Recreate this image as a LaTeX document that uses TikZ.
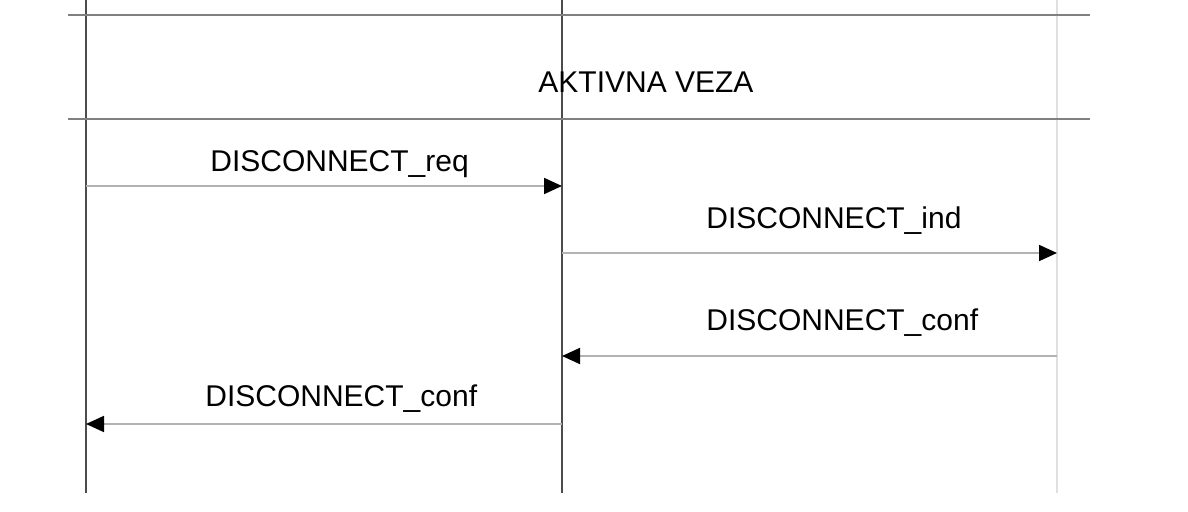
\documentclass[tikz,border=0pt]{standalone}
\usepackage{fontspec}
\setmainfont{Liberation Sans}
\usetikzlibrary{arrows.meta}
\tikzstyle{lifeline}=[draw=black!70,line width=1pt]
\tikzstyle{ghostline}=[draw=black!12,line width=1pt]
\tikzstyle{frameline}=[draw=black!50,line width=0.9pt]
\tikzstyle{message}=[draw=black!30,line width=0.9pt,-{Triangle[length=9pt,width=8pt,color=black]}]
\tikzstyle{msglabel}=[anchor=base west,inner sep=0pt,font=\fontsize{15}{18}\selectfont]
\newcommand{\drawmsg}[7]{
\coordinate (#1s) at (#2,#4);
\coordinate (#1e) at (#3,#4);
\draw[message] (#1s) -- (#1e);
\node[msglabel] (#1l) at (#5,#6) {#7};
}

\begin{document}
\begin{tikzpicture}[x=0.5pt,y=-0.5pt]
	\useasboundingbox (0,0) rectangle (1188,512);
	% lifelines
	\foreach \nm/\x in {left/86,mid/562,right/1057} {
	  \coordinate (\nm top) at (\x,0);
	  \coordinate (\nm bot) at (\x,493);
	}
	\draw[lifeline] (lefttop) -- (leftbot);
	\draw[lifeline] (midtop) -- (midbot);
	\draw[ghostline] (righttop) -- (rightbot);
	% state box
	\coordinate (boxtl) at (68,15);
	\coordinate (boxtr) at (1090,15);
	\coordinate (boxbl) at (68,119);
	\coordinate (boxbr) at (1090,119);
	\draw[frameline] (boxtl) -- (boxtr);
	\draw[frameline] (boxbl) -- (boxbr);
	\node[msglabel] (state) at (538,93) {AKTIVNA VEZA};
	% messages
	\drawmsg{req}{86}{562}{186}{210}{172}{DISCONNECT\_req}
	\drawmsg{ind}{562}{1057}{253}{706}{229}{DISCONNECT\_ind}
	\drawmsg{confr}{1057}{562}{356}{706}{331}{DISCONNECT\_conf}
	\drawmsg{confl}{562}{86}{424}{205}{407}{DISCONNECT\_conf}
\end{tikzpicture}
\end{document}
